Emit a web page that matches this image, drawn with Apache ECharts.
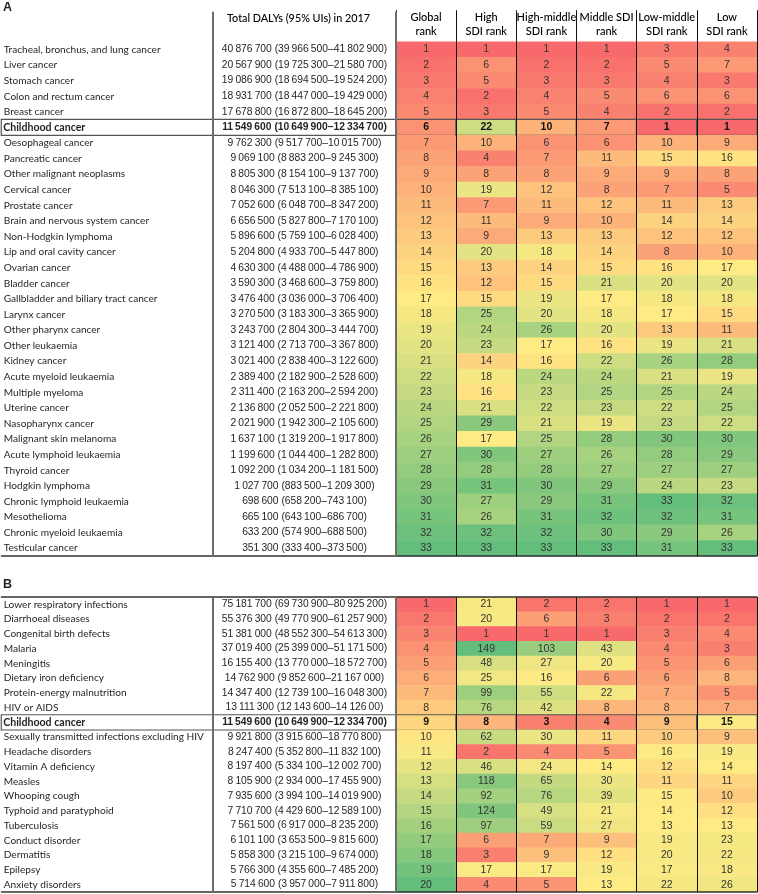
<!DOCTYPE html>
<html><head><meta charset="utf-8">
<script src="https://cdn.jsdelivr.net/npm/echarts@6/dist/echarts.min.js"></script>
<style>html,body{margin:0;padding:0;background:#fff}#c{width:758px;height:894px}</style>
</head><body><div id="c"></div>
<script>
// ---------- DATA ----------
const rankColumns = ['Global\nrank', 'High\nSDI rank', 'High-middle\nSDI rank', 'Middle SDI\nrank', 'Low-middle\nSDI rank', 'Low\nSDI rank'];
const dalyHeader = 'Total DALYs (95% UIs) in 2017';
const highlightCause = 'Childhood cancer';

const causesA = ['Tracheal, bronchus, and lung cancer','Liver cancer','Stomach cancer','Colon and rectum cancer','Breast cancer','Childhood cancer','Oesophageal cancer','Pancreatic cancer','Other malignant neoplasms','Cervical cancer','Prostate cancer','Brain and nervous system cancer','Non-Hodgkin lymphoma','Lip and oral cavity cancer','Ovarian cancer','Bladder cancer','Gallbladder and biliary tract cancer','Larynx cancer','Other pharynx cancer','Other leukaemia','Kidney cancer','Acute myeloid leukaemia','Multiple myeloma','Uterine cancer','Nasopharynx cancer','Malignant skin melanoma','Acute lymphoid leukaemia','Thyroid cancer','Hodgkin lymphoma','Chronic lymphoid leukaemia','Mesothelioma','Chronic myeloid leukaemia','Testicular cancer'];
const dalysA = ['40 876 700 (39 966 500–41 802 900)','20 567 900 (19 725 300–21 580 700)','19 086 900 (18 694 500–19 524 200)','18 931 700 (18 447 000–19 429 000)','17 678 800 (16 872 800–18 645 200)','11 549 600 (10 649 900–12 334 700)','9 762 300 (9 517 700–10 015 700)','9 069 100 (8 883 200–9 245 300)','8 805 300 (8 154 100–9 137 700)','8 046 300 (7 513 100–8 385 100)','7 052 600 (6 048 700–8 347 200)','6 656 500 (5 827 800–7 170 100)','5 896 600 (5 759 100–6 028 400)','5 204 800 (4 933 700–5 447 800)','4 630 300 (4 488 000–4 786 900)','3 590 300 (3 468 600–3 759 800)','3 476 400 (3 036 000–3 706 400)','3 270 500 (3 183 300–3 365 900)','3 243 700 (2 804 300–3 444 700)','3 121 400 (2 713 700–3 367 800)','3 021 400 (2 838 400–3 122 600)','2 389 400 (2 182 900–2 528 600)','2 311 400 (2 163 200–2 594 200)','2 136 800 (2 052 500–2 221 800)','2 021 900 (1 942 300–2 105 600)','1 637 100 (1 319 200–1 917 800)','1 199 600 (1 044 400–1 282 800)','1 092 200 (1 034 200–1 181 500)','1 027 700 (883 500–1 209 300)','698 600 (658 200–743 100)','665 100 (643 100–686 700)','633 200 (574 900–688 500)','351 300 (333 400–373 500)'];
const globalA     = [1,2,3,4,5,6,7,8,9,10,11,12,13,14,15,16,17,18,19,20,21,22,23,24,25,26,27,28,29,30,31,32,33];
const highA       = [1,6,5,2,3,22,10,4,8,19,7,11,9,20,13,12,15,25,24,23,14,18,16,21,29,17,30,28,31,27,26,32,33];
const highMiddleA = [1,2,3,4,5,10,6,7,8,12,11,9,13,18,14,15,19,20,26,17,16,24,23,22,21,25,27,28,30,29,31,32,33];
const middleA     = [1,2,3,5,4,7,6,11,9,8,12,10,13,14,15,21,17,18,20,16,22,24,25,23,19,28,26,27,29,31,32,30,33];
const lowMiddleA  = [3,5,4,6,2,1,10,15,9,7,11,14,12,8,16,20,18,17,13,19,26,21,25,22,23,30,28,27,24,33,32,29,31];
const lowA        = [4,7,3,6,2,1,9,16,8,5,13,14,12,10,17,20,18,15,11,21,28,19,24,25,22,30,29,27,23,32,31,26,33];

const causesB = ['Lower respiratory infections','Diarrhoeal diseases','Congenital birth defects','Malaria','Meningitis','Dietary iron deficiency','Protein-energy malnutrition','HIV or AIDS','Childhood cancer','Sexually transmitted infections excluding HIV','Headache disorders','Vitamin A deficiency','Measles','Whooping cough','Typhoid and paratyphoid','Tuberculosis','Conduct disorder','Dermatitis','Epilepsy','Anxiety disorders'];
const dalysB = ['75 181 700 (69 730 900–80 925 200)','55 376 300 (49 770 900–61 257 900)','51 381 000 (48 552 300–54 613 300)','37 019 400 (25 399 000–51 171 500)','16 155 400 (13 770 000–18 572 700)','14 762 900 (9 852 600–21 167 000)','14 347 400 (12 739 100–16 048 300)','13 111 300 (12 143 600–14 126 00)','11 549 600 (10 649 900–12 334 700)','9 921 800 (3 915 600–18 770 800)','8 247 400 (5 352 800–11 832 100)','8 197 400 (5 334 100–12 002 700)','8 105 900 (2 934 000–17 455 900)','7 935 600 (3 994 100–14 019 900)','7 710 700 (4 429 600–12 589 100)','7 561 500 (6 917 000–8 235 200)','6 101 100 (3 653 500–9 815 600)','5 858 300 (3 215 100–9 674 000)','5 766 300 (4 355 600–7 485 200)','5 714 600 (3 957 000–7 911 800)'];
const globalB     = [1,2,3,4,5,6,7,8,9,10,11,12,13,14,15,16,17,18,19,20];
const highB       = [21,20,1,149,48,25,99,76,8,62,2,46,118,92,124,97,6,3,17,4];
const highMiddleB = [2,6,1,103,27,16,55,42,3,30,4,24,65,76,49,59,7,9,17,5];
const middleB     = [2,3,1,43,20,6,22,8,4,11,5,14,30,39,21,27,9,12,19,13];
const lowMiddleB  = [1,2,3,4,5,6,7,8,9,10,16,12,11,15,14,13,19,20,17,22];
const lowB        = [1,2,4,3,6,8,5,7,15,9,19,14,11,10,12,13,23,22,18,26];

// ---------- STYLE ----------
const TXT = 'Lato, "Liberation Sans", sans-serif';
const NUM = '"Liberation Sans", Arial, sans-serif';
const INK = '#231f20';
const RED = '#F8696B', YEL = '#FFEB84', GRN = '#63BE7B';
const GRAY = '#6d6d6d';
const X_NAME = 1.5, X_DALY = 213, X_RANK = 396, X_END = 757;
const A_TOP = 41.7, A_BOT = 556;
const B_TOP = 597, B_BOT = 892;

// colour position in a 3-colour scale (min, 50th percentile, max)
function scaleOf(values) {
  const s = values.slice().sort((a, b) => a - b);
  const n = s.length, p = (n - 1) * 0.5, lo = Math.floor(p), hi = Math.ceil(p);
  const mid = s[lo] + (s[hi] - s[lo]) * (p - lo);
  const mn = s[0], mx = s[n - 1];
  return v => v <= mid ? 0.5 * (v - mn) / (mid - mn) : 0.5 + 0.5 * (v - mid) / (mx - mid);
}
function rankData(cols, groups) {
  const pos = cols.map(() => null);
  groups.forEach(g => {
    const f = scaleOf([].concat(...g.map(i => cols[i])));
    g.forEach(i => { pos[i] = f; });
  });
  const out = [];
  cols.forEach((col, c) => col.forEach((r, i) => out.push({ c, i, r, p: pos[c](r) })));
  return out;
}
const fmtNum = s => s.replace(/(\d) (?=\d)/g, '$1\u2009');

function textSeries(xi, yi, texts, causes, isName) {
  return {
    type: 'heatmap', xAxisIndex: xi, yAxisIndex: yi,
    itemStyle: { color: 'rgba(0,0,0,0)' },
    emphasis: { disabled: true },
    label: {
      show: true, position: isName ? 'insideLeft' : 'inside', distance: 2.5,
      fontFamily: isName ? TXT : NUM, fontSize: isName ? 10.1 : 10.3, color: INK,
      formatter: p => isName ? texts[p.value[1]] : fmtNum(texts[p.value[1]])
    },
    data: texts.map((t, i) => causes[i] === highlightCause
      ? { value: [0, i, 0], label: { fontWeight: 'bold', fontSize: isName ? 10.6 : 10.3 }, itemStyle: { borderColor: '#555', borderWidth: 1.2 } }
      : [0, i, 0])
  };
}
function rankSeries(xi, yi, cols, groups, causes) {
  return {
    type: 'heatmap', xAxisIndex: xi, yAxisIndex: yi,
    emphasis: { disabled: true },
    label: { show: true, fontFamily: NUM, fontSize: 10.5, color: '#333', formatter: p => p.value[2] },
    data: rankData(cols, groups).map(d => causes[d.i] === highlightCause
      ? { value: [d.c, d.i, d.r, d.p], label: { fontWeight: 'bold', color: '#111' }, itemStyle: { borderColor: '#555', borderWidth: 1.2 } }
      : [d.c, d.i, d.r, d.p])
  };
}

const grids = [
  { left: X_NAME, width: X_DALY - X_NAME, top: A_TOP, height: A_BOT - A_TOP },
  { left: X_DALY, width: X_RANK - X_DALY, top: A_TOP, height: A_BOT - A_TOP },
  { left: X_RANK, width: X_END - X_RANK, top: A_TOP, height: A_BOT - A_TOP },
  { left: X_NAME, width: X_DALY - X_NAME, top: B_TOP, height: B_BOT - B_TOP },
  { left: X_DALY, width: X_RANK - X_DALY, top: B_TOP, height: B_BOT - B_TOP },
  { left: X_RANK, width: X_END - X_RANK, top: B_TOP, height: B_BOT - B_TOP }
];
const off = { show: false };
const rule = { show: true, lineStyle: { color: '#333', width: 1.5 } };
function lineAxis(gi, position, data, z) {
  return { type: 'category', gridIndex: gi, position, data: data || [''], axisLine: rule, axisTick: off, axisLabel: off, splitLine: off, z: z || 4 };
}
const xAxis = [
  // panel A
  lineAxis(0, 'bottom'),                                          // 0
  { type: 'category', gridIndex: 1, position: 'top', data: [dalyHeader], z: 6,   // 1
    axisLine: off, axisTick: { show: true, interval: 0, length: 30, lineStyle: { color: GRAY, width: 2 } },
    axisLabel: { interval: 0, margin: 18, padding: [0, 12, 0, 0], fontFamily: TXT, fontSize: 10.8, color: '#000', fontWeight: 500 },
    splitLine: off },
  lineAxis(1, 'bottom'),                                          // 2
  { type: 'category', gridIndex: 2, position: 'top', data: rankColumns, z: 5,     // 3
    axisLine: off, axisTick: { show: true, interval: 0, length: 31.5, lineStyle: { color: '#111', width: 1 } },
    axisLabel: { interval: 0, margin: 3, lineHeight: 14, fontFamily: TXT, fontSize: 11, color: '#000', fontWeight: 500 },
    splitLine: { show: true, interval: 0, lineStyle: { color: '#111', width: 1 } } },
  lineAxis(2, 'bottom', rankColumns),                             // 4
  // panel B
  lineAxis(3, 'top'), lineAxis(3, 'bottom'),                      // 5,6
  lineAxis(4, 'top'), lineAxis(4, 'bottom'),                      // 7,8
  { type: 'category', gridIndex: 5, position: 'top', data: rankColumns, z: 5,     // 9
    axisLine: rule, axisTick: off, axisLabel: off,
    splitLine: { show: true, interval: 0, lineStyle: { color: '#111', width: 1 } } },
  lineAxis(5, 'bottom', rankColumns)                              // 10
];
function yCat(gi, data, position, showLine) {
  return { type: 'category', gridIndex: gi, data, inverse: true, position: position || 'left', z: 6,
    axisLine: showLine ? { show: true, lineStyle: { color: GRAY, width: 2 } } : off,
    axisTick: off, axisLabel: off, splitLine: off };
}
const yAxis = [
  yCat(0, causesA), yCat(1, causesA, 'left', true), yCat(1, causesA, 'right', true), yCat(2, causesA),
  yCat(3, causesB), yCat(4, causesB, 'left', true), yCat(4, causesB, 'right', true), yCat(5, causesB)
];
const groupsA = [[0], [1], [2], [3], [4], [5]];
const groupsB = [[0], [1, 2, 3, 4, 5]];
const colsA = [globalA, highA, highMiddleA, middleA, lowMiddleA, lowA];
const colsB = [globalB, highB, highMiddleB, middleB, lowMiddleB, lowB];

const series = [
  textSeries(0, 0, causesA, causesA, true),
  textSeries(1, 1, dalysA, causesA, false),
  rankSeries(3, 3, colsA, groupsA, causesA),
  textSeries(5, 4, causesB, causesB, true),
  textSeries(7, 5, dalysB, causesB, false),
  rankSeries(9, 7, colsB, groupsB, causesB)
];

const chart = echarts.init(document.getElementById('c'), null, { renderer: 'canvas' });
chart.setOption({
  animation: false,
  backgroundColor: '#fff',
  title: [
    { text: 'A', left: 3, top: 1, padding: 0, textStyle: { fontFamily: '"Liberation Sans", sans-serif', fontSize: 12.5, fontWeight: 'bold', color: INK } },
    { text: 'B', left: 3, top: 578, padding: 0, textStyle: { fontFamily: '"Liberation Sans", sans-serif', fontSize: 12.5, fontWeight: 'bold', color: INK } }
  ],
  tooltip: { show: false },
  grid: grids, xAxis, yAxis, series,
  visualMap: { show: false, type: 'continuous', seriesIndex: [2, 5], dimension: 3, min: 0, max: 1, inRange: { color: [RED, YEL, GRN] } }
});
</script></body></html>
